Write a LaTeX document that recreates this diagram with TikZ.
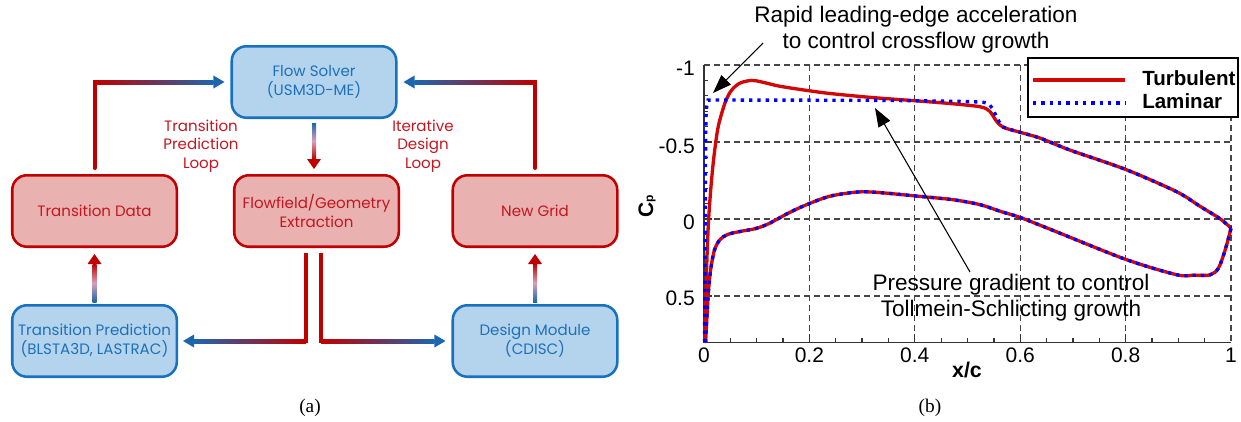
\documentclass[tikz,border=0pt]{standalone}
\usepackage{fontspec}
\setmainfont{Liberation Sans}
\newfontfamily\gothic{Poppins}
\newfontfamily\capfont{Liberation Serif}
\usetikzlibrary{calc,arrows.meta}
\definecolor{bxblue}{RGB}{180,212,237}
\definecolor{bdblue}{RGB}{24,113,190}
\definecolor{txblue}{RGB}{30,112,186}
\definecolor{bxred}{RGB}{233,177,176}
\definecolor{bdred}{RGB}{192,0,0}
\definecolor{txred}{RGB}{196,22,32}
\definecolor{arred}{RGB}{192,0,0}
\definecolor{arblue}{RGB}{28,102,176}
\definecolor{armid}{RGB}{214,160,185}
\definecolor{plred}{RGB}{210,8,8}
\definecolor{plblue}{RGB}{0,0,255}
\definecolor{gridc}{RGB}{70,70,70}
\tikzset{
  boxbase/.style={rounded corners=11pt, line width=1.9pt, minimum width=123.4pt, minimum height=53.6pt, inner sep=0pt, align=center, font=\gothic\fontsize{11.3}{14.25}\selectfont},
  bluebox/.style={boxbase, draw=bdblue, fill=bxblue, text=txblue},
  redbox/.style={boxbase, draw=bdred, fill=bxred, text=txred},
  redstem/.style={draw=arred, line width=3pt},
  looplabel/.style={text=txred, align=center, inner sep=0pt, font=\gothic\fontsize{11.3}{13.9}\selectfont},
  gridline/.style={draw=gridc, line width=0.8pt, dash pattern=on 4.5pt off 3pt},
  axisline/.style={draw=black!80, line width=1pt},
  turbline/.style={draw=plred, line width=2.5pt, line join=round},
  lamline/.style={draw=plblue, line width=2.5pt, dash pattern=on 2.5pt off 3.75pt},
  ticklab/.style={font=\fontsize{15.75}{18}\selectfont, inner sep=0pt},
  annot/.style={font=\fontsize{16.9}{19.5}\selectfont, align=center, inner sep=0pt},
  annarrow/.style={draw=black, line width=0.8pt, -{Triangle[length=14pt,width=10pt]}},
  legtext/.style={font=\bfseries\fontsize{15.4}{18}\selectfont, inner sep=0pt, anchor=base west},
  caplab/.style={font=\capfont\fontsize{14.5}{16}\selectfont, inner sep=0pt},
}
\begin{document}
\begin{tikzpicture}[x=0.75pt,y=-0.75pt]
\useasboundingbox (0,0) rectangle (1241,421);
% ---------------- left: flow chart ----------------
\node[bluebox] (fs) at (314,82) {Flow Solver\\(USM3D-ME)};
\node[redbox] (td) at (94.5,211) {Transition Data};
\node[redbox] (fg) at (316.5,211) {Flowfield/Geometry\\Extraction};
\node[redbox] (ng) at (535,211) {New Grid};
\node[bluebox] (tp) at (94.5,341) {Transition Prediction\\(BLSTA3D, LASTRAC)};
\node[bluebox] (dm) at (535,341) {Design Module\\(CDISC)};
\node[looplabel] (tpl) at (201,146) {Transition\\Prediction\\Loop};
\node[looplabel] (idl) at (423,146) {Iterative\\Design\\Loop};
% TD -> FS
\coordinate (c1s) at ($(td.north)+(0,-6)$);
\coordinate (c1k) at (c1s |- fs.west);
\coordinate (c1t) at ($(fs.west)+(-6,0)$);
\draw[redstem, line cap=round] (c1s) -- (c1k) -- ($(c1k)+(6,0)$);
\shade[left color=arred, right color=arblue] ($(c1k)+(0,-2)$) rectangle ($(c1t)+(-11,2)$);
\fill[arblue] (c1t) -- ++(-11,-6.5) -- ++(0,13) -- cycle;
% NG -> FS
\coordinate (c2s) at ($(ng.north)+(0,-6)$);
\coordinate (c2k) at (c2s |- fs.east);
\coordinate (c2t) at ($(fs.east)+(6,0)$);
\draw[redstem, line cap=round] (c2s) -- (c2k) -- ($(c2k)+(-6,0)$);
\shade[left color=arblue, right color=arred] ($(c2t)+(11,-2)$) rectangle ($(c2k)+(0,2)$);
\fill[arblue] (c2t) -- ++(11,-6.5) -- ++(0,13) -- cycle;
% FS -> FG
\coordinate (c3s) at ($(fs.south)+(0,4)$);
\coordinate (c3b) at (fs.south |- fg.north);
\coordinate (c3t) at ($(c3b)+(0,-5)$);
\shade[top color=arblue, bottom color=arred, middle color=armid] ($(c3s)+(-2,0)$) rectangle ($(c3t)+(2,-10)$);
\fill[arred] (c3t) -- ++(-7,-10) -- ++(14,0) -- cycle;
% TP -> TD
\coordinate (c4s) at ($(tp.north)+(0,-2)$);
\coordinate (c4t) at ($(td.south)+(0,6)$);
\shade[top color=arred, bottom color=arblue, middle color=armid] ($(c4t)+(-2,10)$) rectangle ($(c4s)+(2,0)$);
\fill[arred] (c4t) -- ++(-7,10) -- ++(14,0) -- cycle;
% DM -> NG
\coordinate (c5s) at ($(dm.north)+(0,-2)$);
\coordinate (c5t) at ($(ng.south)+(0,6)$);
\shade[top color=arred, bottom color=arblue, middle color=armid] ($(c5t)+(-2,10)$) rectangle ($(c5s)+(2,0)$);
\fill[arred] (c5t) -- ++(-7,10) -- ++(14,0) -- cycle;
% FG -> TP
\coordinate (c6b) at (fg.south -| fs.south);
\coordinate (c6s) at ($(c6b)+(-8,5)$);
\coordinate (c6k) at (c6s |- tp.east);
\coordinate (c6t) at ($(tp.east)+(5,0)$);
\draw[redstem] (c6s) -- (c6k) -- ($(c6k)+(-6,0)$);
\shade[left color=arblue, right color=arred] ($(c6t)+(11,-2)$) rectangle ($(c6k)+(0,2)$);
\fill[arblue] (c6t) -- ++(11,-6.5) -- ++(0,13) -- cycle;
% FG -> DM
\coordinate (c7s) at ($(c6b)+(7,5)$);
\coordinate (c7k) at (c7s |- dm.west);
\coordinate (c7t) at ($(dm.west)+(-6,0)$);
\draw[redstem] (c7s) -- (c7k) -- ($(c7k)+(6,0)$);
\shade[left color=arred, right color=arblue] ($(c7k)+(0,-2)$) rectangle ($(c7t)+(-11,2)$);
\fill[arblue] (c7t) -- ++(-11,-6.5) -- ++(0,13) -- cycle;
\node[caplab] (capa) at (310,408) {(a)};
% ---------------- right: Cp plot ----------------
\begin{scope}[shift={(528pt,-164.25pt)}, x=395.25pt, y=-115.5pt]
  \foreach \g in {0.2,0.4,0.6,0.8,1} \draw[gridline] (\g,-1) -- (\g,0.8);
  \foreach \g in {-1,-0.5,0,0.5} \draw[gridline] (0,\g) -- (1,\g);
  \foreach \i in {1,...,19} \draw[axisline] ({\i*0.05},0.8) -- ++(0pt,3pt);
  \foreach \g in {0.2,0.4,0.6,0.8} \draw[axisline] (\g,0.8) -- ++(0pt,6pt);
  \foreach \i in {1,...,17} \draw[axisline] (0,{-1+\i*0.1}) -- ++(3pt,0pt);
  \foreach \g in {-0.5,0,0.5} \draw[axisline] (0,\g) -- ++(6pt,0pt);
  \draw[axisline] (0,-1) -- (0,0.8) -- (1,0.8);
  % turbulent
  \draw[turbline] plot[smooth, tension=0.5] coordinates {(0.0015,0.8) (0.004,0.42) (0.008,0.05) (0.013,-0.2) (0.019,-0.41) (0.027,-0.6) (0.04,-0.755) (0.052,-0.835) (0.068,-0.882) (0.09,-0.9) (0.109,-0.89) (0.144,-0.862) (0.195,-0.835) (0.239,-0.815) (0.315,-0.79) (0.4,-0.768) (0.473,-0.748) (0.525,-0.728) (0.542,-0.7) (0.555,-0.635) (0.568,-0.595) (0.6,-0.563) (0.638,-0.525) (0.694,-0.448) (0.8,-0.322) (0.897,-0.177) (0.94,-0.085) (0.98,0.0) (1.0,0.06)};
  \draw[turbline] plot[smooth, tension=0.5] coordinates {(0.003,0.8) (0.008,0.49) (0.013,0.32) (0.02,0.2) (0.03,0.135) (0.045,0.1) (0.07,0.08) (0.098,0.062) (0.123,0.03) (0.161,-0.04) (0.196,-0.095) (0.239,-0.148) (0.29,-0.175) (0.328,-0.173) (0.4,-0.15) (0.473,-0.125) (0.524,-0.093) (0.562,-0.05) (0.6,-0.01) (0.663,0.075) (0.8,0.262) (0.897,0.362) (0.93,0.365) (0.96,0.363) (0.976,0.32) (0.989,0.2) (1.0,0.06)};
  % laminar
  \draw[lamline] plot[smooth, tension=0.4] coordinates {(0.001,0.8) (0.002,0.2) (0.003,-0.4) (0.004,-0.68) (0.007,-0.765) (0.015,-0.772) (0.1,-0.772) (0.3,-0.771) (0.45,-0.766) (0.52,-0.76) (0.537,-0.752) (0.547,-0.72) (0.557,-0.65) (0.568,-0.597) (0.6,-0.563) (0.638,-0.525) (0.694,-0.448) (0.8,-0.322) (0.897,-0.177) (0.94,-0.085) (0.98,0.0) (1.0,0.06)};
  \draw[lamline] plot[smooth, tension=0.5] coordinates {(0.003,0.8) (0.008,0.49) (0.013,0.32) (0.02,0.2) (0.03,0.135) (0.045,0.1) (0.07,0.08) (0.098,0.062) (0.123,0.03) (0.161,-0.04) (0.196,-0.095) (0.239,-0.148) (0.29,-0.175) (0.328,-0.173) (0.4,-0.15) (0.473,-0.125) (0.524,-0.093) (0.562,-0.05) (0.6,-0.01) (0.663,0.075) (0.8,0.262) (0.897,0.362) (0.93,0.365) (0.96,0.363) (0.976,0.32) (0.989,0.2) (1.0,0.06)};
\end{scope}
% tick labels
\node[ticklab, anchor=base east] (ly1) at (695,75.5) {-1};
\node[ticklab, anchor=base east] (ly2) at (695,153.5) {-0.5};
\node[ticklab, anchor=base east] (ly3) at (695,229.5) {0};
\node[ticklab, anchor=base east] (ly4) at (695,305.5) {0.5};
\node[ticklab, anchor=base] (lx0) at (704,362) {0};
\node[ticklab, anchor=base] (lx1) at (809.4,362) {0.2};
\node[ticklab, anchor=base] (lx2) at (914.8,362) {0.4};
\node[ticklab, anchor=base] (lx3) at (1020.2,362) {0.6};
\node[ticklab, anchor=base] (lx4) at (1125.6,362) {0.8};
\node[ticklab, anchor=base] (lx5) at (1231,362) {1};
\node[font=\bfseries\fontsize{16}{18}\selectfont, anchor=base, inner sep=0pt] (xlab) at (967,377) {x/c};
\node[rotate=90, anchor=base, inner sep=0pt, font=\bfseries\fontsize{15.75}{18}\selectfont] (cplab) at (653,206) {C{\fontsize{9}{10}\selectfont p}};
% legend
\node[draw=black, line width=1pt, fill=white, minimum width=157.5pt, minimum height=44.25pt, inner sep=0pt] (legend) at (1133,87.5) {};
\draw[turbline] (1033,80) -- (1125,80);
\draw[lamline] (1033,103) -- (1125,103);
\node[legtext] (lt) at (1142,85.5) {Turbulent};
\node[legtext] (ll) at (1142,108) {Laminar};
% annotations
\node[annot] (ann1) at (916,30) {Rapid leading-edge acceleration\\to control crossflow growth};
\coordinate (a1s) at (763,43);
\coordinate (a1t) at (713,93);
\draw[annarrow] (a1s) -- (a1t);
\node[annot] (ann2) at (1011,298) {Pressure gradient to control\\Tollmein-Schlicting growth};
\coordinate (a2s) at (970,272);
\coordinate (a2t) at (875,108);
\draw[annarrow] (a2s) -- (a2t);
\node[caplab] (capb) at (930,408) {(b)};
\end{tikzpicture}
\end{document}
